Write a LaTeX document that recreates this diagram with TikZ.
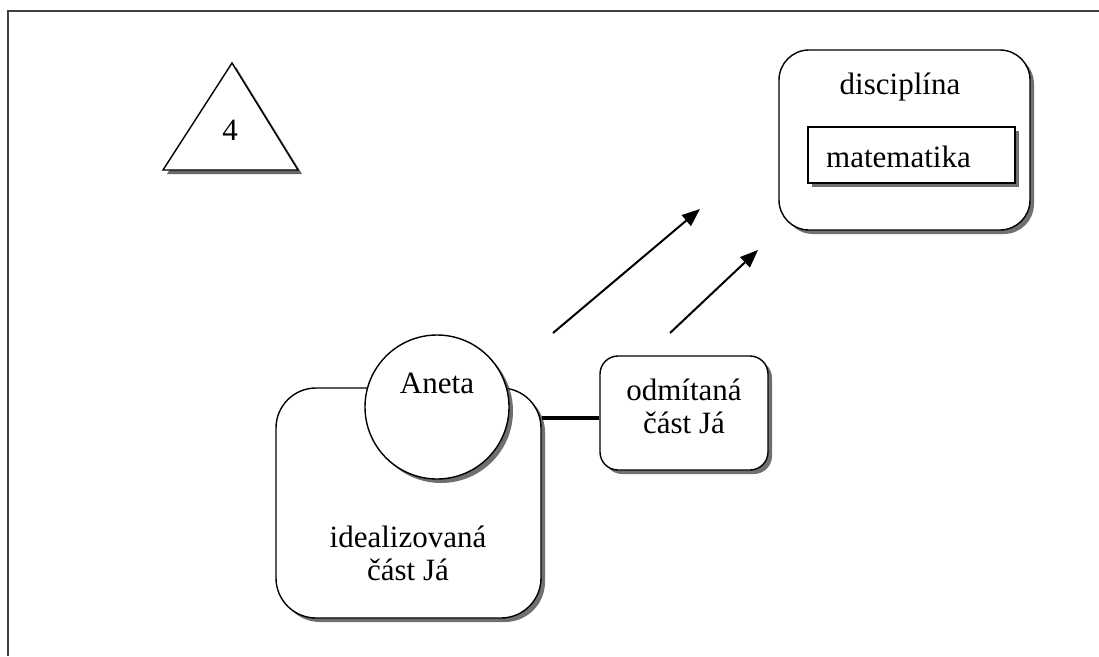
\documentclass[tikz,border=0pt]{standalone}
\usepackage{fontspec}
\setmainfont{Liberation Serif}
\usetikzlibrary{shadows,arrows.meta}
\begin{document}
\begin{tikzpicture}[x=1pt,y=-1pt,
  shad/.style={drop shadow={shadow xshift=4pt,shadow yshift=-4pt,opacity=0.75,fill=black!75}},
  shape line/.style={draw=black,line width=1.4pt,fill=white},
  rbox/.style={shape line,shad,rectangle,inner sep=0pt},
  txt/.style={font=\fontsize{31}{33}\selectfont,align=center,inner sep=0pt},
  arr/.style={line width=2pt,-{Triangle[length=18pt,width=14pt]}}
]
\useasboundingbox (0,0) rectangle (1099,656);
% frame
\draw[line width=2.4pt,black!75] (8,656) -- (8,11) -- (1099,11);
% triangle
\coordinate (ta) at (232,63);
\coordinate (tl) at (163,170);
\coordinate (tr) at (298,170);
\fill[black!70,opacity=0.85] ([xshift=4pt,yshift=-4pt]tl) -- ([xshift=4pt,yshift=-4pt]tr) -- ([xshift=4pt,yshift=-4pt]ta) -- cycle;
\draw[shape line,line join=miter] (ta) -- (tr) -- (tl) -- cycle;
\node[txt] (four) at (230,130) {4};
% disciplina
\node[rbox,rounded corners=30pt,minimum width=251pt,minimum height=180pt] (disc) at (904.5,140) {};
\node[txt] (disctxt) at (900,87) {disciplína};
\node[rbox,minimum width=207pt,minimum height=56pt] (mat) at (911.5,155) {};
\node[txt,anchor=west] (mattxt) at (826,157) {matematika};
% arrows
\coordinate (a1s) at (553,333);
\coordinate (a1e) at (700,209);
\coordinate (a2s) at (670,333);
\coordinate (a2e) at (758,250);
\draw[arr] (a1s) -- (a1e);
\draw[arr] (a2s) -- (a2e);
% idealizovana
\node[rbox,rounded corners=40pt,minimum width=265pt,minimum height=230pt] (ideal) at (408.5,503) {};
\node[txt] (idealtxt) at (408,553) {idealizovaná\\část Já};
% Aneta
\node[shape line,shad,circle,minimum size=144pt,inner sep=0pt] (aneta) at (437,407) {};
\node[txt] (anetatxt) at (437,383) {Aneta};
% odmitana
\node[rbox,rounded corners=18pt,minimum width=168pt,minimum height=114pt] (odm) at (684,413) {};
\node[txt] (odmtxt) at (684,406) {odmítaná\\část Já};
% connector
\draw[line width=3.2pt] (ideal.east |- 0,418) -- (odm.west |- 0,418);
\end{tikzpicture}
\end{document}
